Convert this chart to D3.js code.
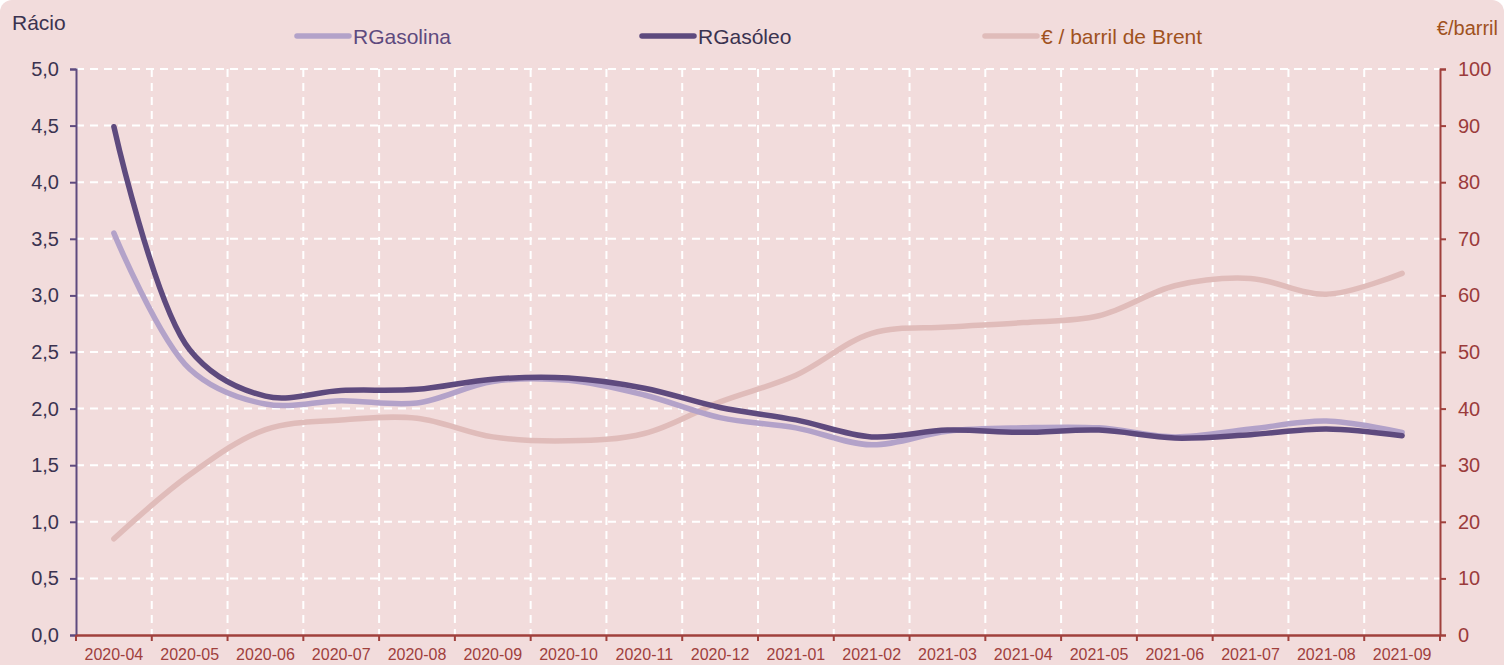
<!DOCTYPE html>
<html>
<head>
<meta charset="utf-8">
<script src="https://cdn.jsdelivr.net/npm/d3@7"></script>
<style>
  html, body { margin: 0; padding: 0; background: #fff; }
  svg { display: block; font-family: "Liberation Sans", Arial, sans-serif; }
</style>
</head>
<body>
<div id="chart"></div>
<script>
/* Rácios de preço (gasolina / gasóleo) e Brent em €/barril */

const months = ["2020-04","2020-05","2020-06","2020-07","2020-08","2020-09","2020-10","2020-11","2020-12",
  "2021-01","2021-02","2021-03","2021-04","2021-05","2021-06","2021-07","2021-08","2021-09"];
const rGasolina = [3.55, 2.35, 2.04, 2.07, 2.05, 2.24, 2.25, 2.12, 1.92, 1.83, 1.68, 1.80, 1.83, 1.83, 1.75, 1.82, 1.89, 1.79];
const rGasoleo  = [4.49, 2.52, 2.11, 2.16, 2.17, 2.26, 2.27, 2.18, 2.01, 1.90, 1.75, 1.81, 1.79, 1.81, 1.74, 1.77, 1.82, 1.76];
const brent     = [17.0, 28.3, 36.3, 38.0, 38.3, 35.0, 34.3, 35.6, 41.2, 45.9, 53.3, 54.4, 55.2, 56.4, 61.7, 63.0, 60.2, 63.9];
const leftTicks  = [0, 0.5, 1, 1.5, 2, 2.5, 3, 3.5, 4, 4.5, 5];
const rightTicks = [0, 10, 20, 30, 40, 50, 60, 70, 80, 90, 100];

const W = 1504, H = 665, M = { t: 69, r: 64, b: 30, l: 76 };
const C = { bg: "#F2DCDC", gas: "#B3A2C9", dsl: "#5E4A7E", brent: "#E0BCBA",
  axL: "#5E4A7E", axR: "#A0403C", txtL: "#3B3350", txtR: "#9B3B3B", unit: "#A0521E" };

const svg = d3.select("#chart").append("svg").attr("width", W).attr("height", H);
svg.append("rect").attr("x", 0).attr("y", 0).attr("width", W).attr("height", H + 20)
  .attr("rx", 12).attr("fill", C.bg);

const x = d3.scaleBand().domain(months).range([M.l, W - M.r]);
const yL = d3.scaleLinear().domain([0, 5]).range([H - M.b, M.t]);
const yR = d3.scaleLinear().domain([0, 100]).range([H - M.b, M.t]);

/* grelha tracejada */
const grid = svg.append("g").attr("stroke", "#fff").attr("stroke-width", 2).attr("stroke-dasharray", "8 6");
grid.selectAll("line.h").data(leftTicks.filter(d => d > 0)).join("line").attr("class", "h")
  .attr("x1", M.l).attr("x2", W - M.r).attr("y1", d => yL(d)).attr("y2", d => yL(d));
grid.selectAll("line.v").data(months.slice(1)).join("line").attr("class", "v")
  .attr("x1", d => x(d)).attr("x2", d => x(d)).attr("y1", M.t).attr("y2", H - M.b);

/* eixos */
const gl = svg.append("g").attr("transform", `translate(${M.l},0)`)
  .call(d3.axisLeft(yL).tickValues(leftTicks).tickSize(6).tickPadding(11)
    .tickFormat(d => d3.format(".1f")(d).replace(".", ",")));
gl.select(".domain").attr("stroke", C.axL).attr("stroke-width", 2);
gl.selectAll(".tick line").attr("stroke", C.axL).attr("stroke-width", 2);
gl.selectAll("text").attr("fill", C.txtL).attr("font-size", 20).attr("font-family", "Liberation Sans, Arial, sans-serif");

const gr = svg.append("g").attr("transform", `translate(${W - M.r},0)`)
  .call(d3.axisRight(yR).tickValues(rightTicks).tickSize(6).tickPadding(12));
gr.select(".domain").attr("stroke", C.axR).attr("stroke-width", 2);
gr.selectAll(".tick line").attr("stroke", C.axR).attr("stroke-width", 2);
gr.selectAll("text").attr("fill", C.txtR).attr("font-size", 20).attr("font-family", "Liberation Sans, Arial, sans-serif");

const gb = svg.append("g").attr("transform", `translate(0,${H - M.b})`)
  .call(d3.axisBottom(x).tickSize(0).tickPadding(14).tickSizeOuter(0));
gb.select(".domain").attr("stroke", C.axR).attr("stroke-width", 2.5);
gb.selectAll("text").attr("fill", C.axR).attr("font-size", 16)
  .attr("font-family", "Liberation Sans, Arial, sans-serif");
gb.selectAll("line.bt").data(months.concat([null])).join("line").attr("class", "bt")
  .attr("x1", (d, i) => i < months.length ? x(d) : x.range()[1])
  .attr("x2", (d, i) => i < months.length ? x(d) : x.range()[1])
  .attr("y1", 0).attr("y2", 6).attr("stroke", C.axR).attr("stroke-width", 2);

/* linhas suavizadas */
const cx = (d, i) => x(months[i]) + x.bandwidth() / 2;
const lineL = d3.line().x(cx).y(d => yL(d)).curve(d3.curveCatmullRom.alpha(0.5));
const lineR = d3.line().x(cx).y(d => yR(d)).curve(d3.curveCatmullRom.alpha(0.5));
const draw = (gen, vals, color) => svg.append("path").attr("d", gen(vals))
  .attr("fill", "none").attr("stroke", color).attr("stroke-width", 5.5)
  .attr("stroke-linecap", "round").attr("stroke-linejoin", "round");
draw(lineR, brent, C.brent);
draw(lineL, rGasolina, C.gas);
draw(lineL, rGasoleo, C.dsl);

/* legenda */
const legend = [
  { name: "RGasolina", color: C.gas, x: 297, fill: "#5E4A7E" },
  { name: "RGasóleo", color: C.dsl, x: 642, fill: "#3B3350" },
  { name: "€ / barril de Brent", color: C.brent, x: 985, fill: C.unit }
];
const lg = svg.append("g").selectAll("g").data(legend).join("g")
  .attr("transform", d => `translate(${d.x},36)`);
lg.append("line").attr("x1", 0).attr("x2", 52).attr("stroke", d => d.color)
  .attr("stroke-width", 5.5).attr("stroke-linecap", "round");
lg.append("text").attr("x", 56).attr("y", 7.5).attr("font-size", 21)
  .attr("fill", d => d.fill).text(d => d.name);

/* títulos dos eixos */
svg.append("text").attr("x", 12).attr("y", 30).attr("font-size", 21).attr("fill", C.txtL).text("Rácio");
svg.append("text").attr("x", 1498).attr("y", 35).attr("text-anchor", "end")
  .attr("font-size", 20).attr("fill", C.unit).text("€/barril");
</script>
</body>
</html>
